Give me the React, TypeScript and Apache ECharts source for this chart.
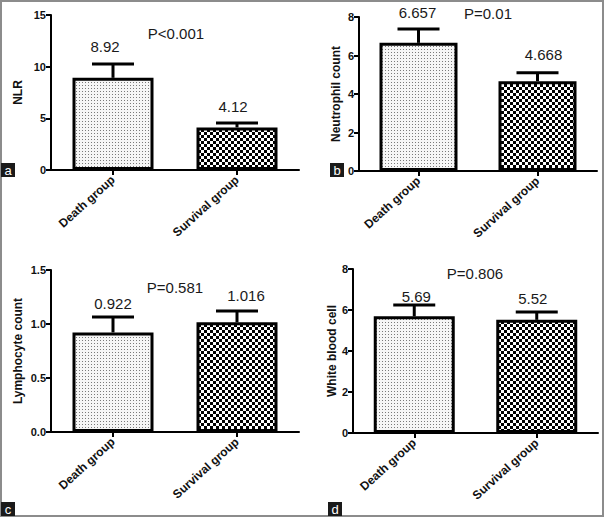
import React, { useEffect, useRef } from "react";
import * as echarts from "echarts";

// ---------- data ----------
const categories = ["Death group", "Survival group"];

const panelLetters = ["a", "b", "c", "d"];
const yNames = ["NLR", "Neutrophil count", "Lymphocyte count", "White blood cell"];

const nlrMeans = [8.92, 4.12];
const nlrErrTop = [10.26, 4.55];

const neutroMeans = [6.657, 4.668];
const neutroErrTop = [7.38, 5.1];

const lymphoMeans = [0.922, 1.016];
const lymphoErrTop = [1.065, 1.12];

const wbcMeans = [5.69, 5.52];
const wbcErrTop = [6.24, 5.9];

const pValues = ["P<0.001", "P=0.01", "P=0.581", "P=0.806"];

const yMax = [15, 8, 1.5, 8];
const yInterval = [5, 2, 0.5, 2];
const yDecimals = [0, 0, 1, 0];

// ---------- layout ----------
const GRIDS = [
  { left: 51, top: 15, width: 248, height: 155 },
  { left: 359, top: 17, width: 238, height: 154 },
  { left: 51, top: 270, width: 248, height: 162 },
  { left: 353, top: 269, width: 245, height: 164 },
];
const BAR_WIDTHS = [81, 78, 81, 81];
const NAME_GAPS = [27, 17, 27, 15];
const LABEL_OFFSETS = [
  [[-8, -17], [-4, -16]],
  [[-1, -16], [6, -18]],
  [[0, -13], [9, -16]],
  [[2, -9], [-4, -14]],
];
const P_POS = [
  [176, 33],
  [488, 13],
  [175, 287],
  [475, 273],
];
const LETTER_BOX = [
  [1, 163],
  [330, 163],
  [1, 502],
  [328, 502],
];
const CAP = 21;
const FONT = "Liberation Sans, Arial, Helvetica, sans-serif";

function makeDotPattern(): HTMLCanvasElement {
  const c = document.createElement("canvas");
  c.width = 3;
  c.height = 3;
  const ctx = c.getContext("2d")!;
  ctx.fillStyle = "#f6f6f6";
  ctx.fillRect(0, 0, 3, 3);
  ctx.fillStyle = "#7a7a7a";
  ctx.fillRect(1, 1, 1, 1);
  return c;
}

function makeCheckPattern(): HTMLCanvasElement {
  const c = document.createElement("canvas");
  c.width = 6;
  c.height = 6;
  const ctx = c.getContext("2d")!;
  ctx.fillStyle = "#ffffff";
  ctx.fillRect(0, 0, 6, 6);
  ctx.fillStyle = "#000000";
  ctx.fillRect(0, 0, 3, 3);
  ctx.fillRect(3, 3, 3, 3);
  return c;
}

export default function App() {
  const ref = useRef<HTMLDivElement>(null);

  useEffect(() => {
    document.body.style.margin = "0";
    if (!ref.current) return;
    const chart = echarts.init(ref.current, null, { renderer: "svg" });

    const dot = { image: makeDotPattern(), repeat: "repeat", imageWidth: 3, imageHeight: 3 };
    const check = { image: makeCheckPattern(), repeat: "repeat", imageWidth: 6, imageHeight: 6 };
    const fills = [dot, check];

    const panels = [
      { means: nlrMeans, err: nlrErrTop },
      { means: neutroMeans, err: neutroErrTop },
      { means: lymphoMeans, err: lymphoErrTop },
      { means: wbcMeans, err: wbcErrTop },
    ];

    const grid = GRIDS.map((g) => ({ ...g }));

    const xAxis = panels.map((_, k) => ({
      type: "category",
      gridIndex: k,
      data: categories,
      axisLine: { show: true, lineStyle: { color: "#000", width: 2 } },
      axisTick: { show: true, alignWithLabel: true, length: 5, lineStyle: { color: "#000", width: 2 } },
      axisLabel: {
        rotate: 42,
        margin: 8,
        color: "#111",
        fontFamily: FONT,
        fontWeight: "bold",
        fontSize: 12,
      },
      splitLine: { show: false },
    }));

    const yAxis = panels.map((_, k) => ({
      type: "value",
      gridIndex: k,
      min: 0,
      max: yMax[k],
      interval: yInterval[k],
      name: yNames[k],
      nameLocation: "middle",
      nameRotate: 90,
      nameGap: NAME_GAPS[k],
      nameTextStyle: { color: "#111", fontFamily: FONT, fontWeight: "bold", fontSize: 12 },
      axisLine: { show: true, lineStyle: { color: "#000", width: 2 } },
      axisTick: { show: true, length: 5, lineStyle: { color: "#000", width: 2 } },
      axisLabel: {
        margin: 5,
        color: "#111",
        fontFamily: FONT,
        fontWeight: "bold",
        fontSize: 11,
        formatter: (v: number) => v.toFixed(yDecimals[k]),
      },
      splitLine: { show: false },
    }));

    const series: any[] = [];
    panels.forEach((p, k) => {
      series.push({
        type: "bar",
        xAxisIndex: k,
        yAxisIndex: k,
        barWidth: BAR_WIDTHS[k],
        data: p.means.map((m, i) => ({
          value: m,
          itemStyle: { color: fills[i], borderColor: "#000", borderWidth: 3 },
        })),
        z: 2,
      });
      series.push({
        type: "custom",
        xAxisIndex: k,
        yAxisIndex: k,
        z: 5,
        data: p.means.map((m, i) => [i, m, p.err[i]]),
        renderItem: (params: any, api: any) => {
          const i = api.value(0);
          const mean = api.value(1);
          const hi = api.value(2);
          const base = api.coord([i, mean]);
          const top = api.coord([i, hi]);
          const [dx, dy] = LABEL_OFFSETS[k][params.dataIndex];
          return {
            type: "group",
            children: [
              {
                type: "line",
                shape: { x1: base[0], y1: base[1], x2: top[0], y2: top[1] },
                style: { stroke: "#000", lineWidth: 3 },
              },
              {
                type: "line",
                shape: { x1: top[0] - CAP, y1: top[1], x2: top[0] + CAP, y2: top[1] },
                style: { stroke: "#000", lineWidth: 3 },
              },
              {
                type: "text",
                x: top[0] + dx,
                y: top[1] + dy,
                style: {
                  text: String(p.means[params.dataIndex]),
                  fill: "#1a1a1a",
                  font: `15px ${FONT}`,
                  align: "center",
                  verticalAlign: "middle",
                },
              },
            ],
          };
        },
      });
    });

    const graphic: any[] = [
      {
        type: "rect",
        shape: { x: 1, y: 1, width: 602, height: 515 },
        style: { fill: "none", stroke: "#8c8c8c", lineWidth: 2 },
        z: 10,
      },
    ];
    pValues.forEach((t, k) => {
      graphic.push({
        type: "text",
        x: P_POS[k][0],
        y: P_POS[k][1],
        style: {
          text: t,
          fill: "#1a1a1a",
          font: `15px ${FONT}`,
          align: "center",
          verticalAlign: "middle",
        },
        z: 10,
      });
    });
    panelLetters.forEach((l, k) => {
      const [bx, by] = LETTER_BOX[k];
      graphic.push({
        type: "rect",
        shape: { x: bx, y: by, width: 14, height: 14 },
        style: { fill: "#1a1a1a" },
        z: 11,
      });
      graphic.push({
        type: "text",
        x: bx + 7,
        y: by + 7,
        style: {
          text: l,
          fill: "#fff",
          font: `13px ${FONT}`,
          align: "center",
          verticalAlign: "middle",
        },
        z: 12,
      });
    });

    chart.setOption({
      animation: false,
      backgroundColor: "#fff",
      grid,
      xAxis,
      yAxis,
      series,
      graphic,
    });

    return () => chart.dispose();
  }, []);

  return <div ref={ref} style={{ width: 605, height: 518 }} />;
}
